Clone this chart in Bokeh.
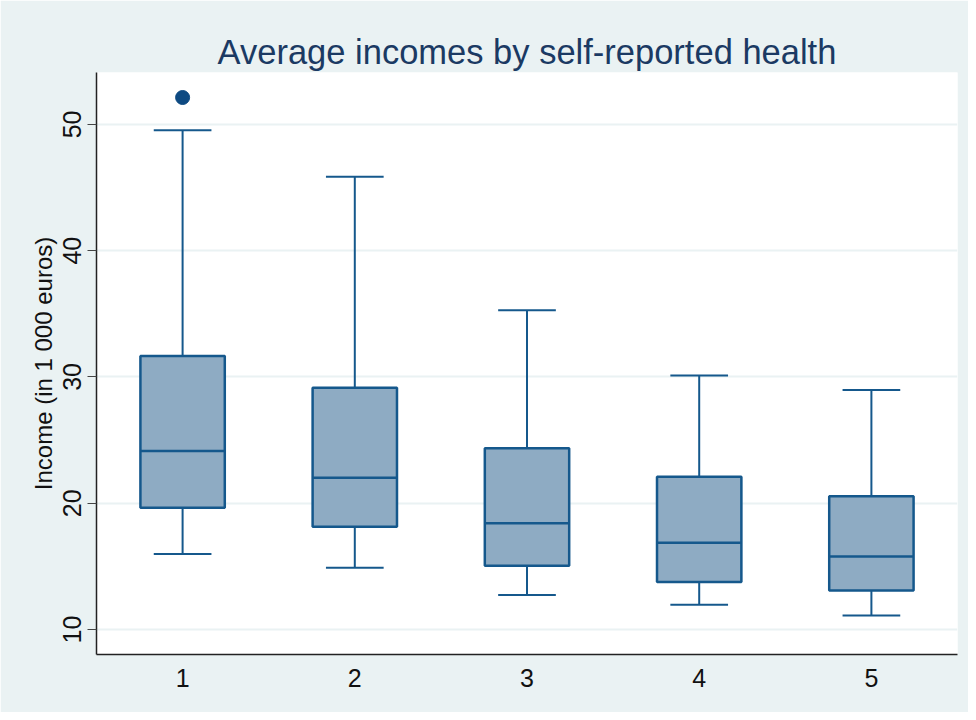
from bokeh.plotting import figure
from bokeh.models import FixedTicker, ColumnDataSource
from bokeh.embed import file_html
from bokeh.resources import INLINE

# Data
health = [1, 2, 3, 4, 5]
lower_whisker = [15.97, 14.89, 12.74, 11.96, 11.11]
q1 = [19.64, 18.14, 15.04, 13.77, 13.09]
median = [24.13, 22.02, 18.41, 16.87, 15.78]
q3 = [31.66, 29.15, 24.35, 22.10, 20.55]
upper_whisker = [49.54, 45.85, 35.28, 30.12, 28.96]
outlier_x = [1]
outlier_y = [52.13]
y_ticks = [10, 20, 30, 40, 50]

BG = "#EAF2F3"
LINE = "#15588C"
FILL = "#8EABC3"
FONT = "Liberation Sans"

box_w = 0.49
cap_w = 0.335

src = ColumnDataSource(dict(
    x=health, lo=lower_whisker, q1=q1, med=median, q3=q3, hi=upper_whisker,
    cx0=[h - cap_w / 2 for h in health], cx1=[h + cap_w / 2 for h in health],
    mx0=[h - box_w / 2 for h in health], mx1=[h + box_w / 2 for h in health],
))

p = figure(
    frame_width=861, frame_height=582,
    min_border_left=96, min_border_top=72, min_border_right=11, min_border_bottom=58,
    x_range=(0.5, 5.5), y_range=(8.02, 54.11),
    output_backend="svg", toolbar_location=None,
    title="Average incomes by self-reported health",
)

p.background_fill_color = "white"
p.border_fill_color = BG
p.outline_line_color = None

p.title.text_font = FONT
p.title.text_font_size = "34.5px"
p.title.text_font_style = "normal"
p.title.text_color = "#1B3A63"
p.title.align = "center"
p.title.standoff = 4

# whiskers
p.segment(x0="x", y0="q3", x1="x", y1="hi", source=src, line_color=LINE, line_width=2)
p.segment(x0="x", y0="lo", x1="x", y1="q1", source=src, line_color=LINE, line_width=2)
# caps
p.segment(x0="cx0", y0="hi", x1="cx1", y1="hi", source=src, line_color=LINE, line_width=2)
p.segment(x0="cx0", y0="lo", x1="cx1", y1="lo", source=src, line_color=LINE, line_width=2)
# boxes
p.vbar(x="x", width=box_w, bottom="q1", top="q3", source=src,
       fill_color=FILL, line_color=LINE, line_width=2.5)
# medians
p.segment(x0="mx0", y0="med", x1="mx1", y1="med", source=src, line_color=LINE, line_width=2.5)
# outlier
p.scatter(outlier_x, outlier_y, size=14, marker="circle", fill_color="#0E4A82", line_color="#0E4A82")

# grid
p.xgrid.grid_line_color = None
p.ygrid.grid_line_color = BG
p.ygrid.grid_line_width = 2

# axes
p.yaxis.ticker = FixedTicker(ticks=y_ticks)
p.xaxis.ticker = FixedTicker(ticks=health)
for ax in (p.xaxis, p.yaxis):
    ax.axis_line_color = "#222222"
    ax.axis_line_width = 1.5
    ax.major_label_text_font = FONT
    ax.major_label_text_font_size = "25px"
    ax.major_label_text_color = "#111111"
    ax.minor_tick_line_color = None

p.xaxis.major_tick_line_color = None
p.xaxis.major_tick_out = 0
p.xaxis.major_tick_in = 0
p.xaxis.major_label_standoff = 14

p.yaxis.major_tick_line_color = "#444444"
p.yaxis.major_tick_out = 9
p.yaxis.major_tick_in = 0
p.yaxis.major_label_orientation = "vertical"
p.yaxis.major_label_standoff = 6
p.yaxis.axis_label = "Income (in 1 000 euros)"
p.yaxis.axis_label_text_font = FONT
p.yaxis.axis_label_text_font_size = "24px"
p.yaxis.axis_label_text_font_style = "normal"
p.yaxis.axis_label_text_color = "#111111"
p.yaxis.axis_label_standoff = 4

open("out.html", "w").write(file_html(p, INLINE))
